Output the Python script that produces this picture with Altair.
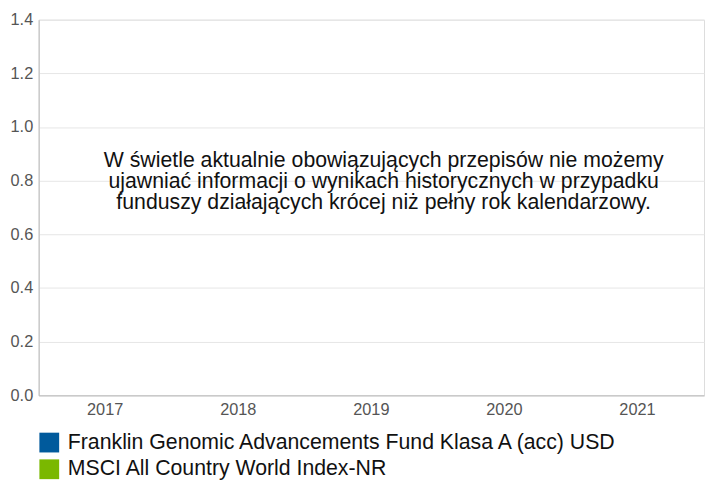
import altair as alt
import pandas as pd

years = ["2017", "2018", "2019", "2020", "2021"]
series = ["Franklin Genomic Advancements Fund Klasa A (acc) USD", "MSCI All Country World Index-NR"]
colors = ["#005A9C", "#7AB800"]
fund_values = [None, None, None, None, None]
index_values = [None, None, None, None, None]
y_ticks = [0.0, 0.2, 0.4, 0.6, 0.8, 1.0, 1.2, 1.4]
message = [
    "W świetle aktualnie obowiązujących przepisów nie możemy",
    "ujawniać informacji o wynikach historycznych w przypadku",
    "funduszy działających krócej niż pełny rok kalendarzowy.",
]

rows = []
for s, vals in zip(series, [fund_values, index_values]):
    for y, v in zip(years, vals):
        rows.append({"year": y, "series": s, "value": v})
df = pd.DataFrame(rows)

W, H = 673, 380
FONT = "Liberation Sans"

bars = alt.Chart(df).mark_bar().encode(
    x=alt.X("year:N", scale=alt.Scale(domain=years, paddingInner=0.2, paddingOuter=0.1),
            axis=alt.Axis(title=None, labelAngle=0, ticks=False, labelPadding=6,
                          labelFontSize=16.5, labelColor="#555555", labelFont=FONT,
                          domainColor="#bbbbbb", grid=False)),
    xOffset=alt.XOffset("series:N", scale=alt.Scale(domain=series)),
    y=alt.Y("value:Q", scale=alt.Scale(domain=[0, 1.4], nice=False),
            axis=alt.Axis(title=None, values=y_ticks, format=".1f", ticks=False, labelPadding=6,
                          labelFontSize=16.5, labelColor="#555555", labelFont=FONT,
                          domainColor="#bbbbbb", gridColor="#e6e6e6")),
    color=alt.Color("series:N", scale=alt.Scale(domain=series, range=colors),
                    legend=alt.Legend(title=None, orient="none", legendX=0, legendY=417,
                                      direction="vertical", symbolType="square", symbolSize=400,
                                      symbolStrokeWidth=0, labelFontSize=21.5, labelFont=FONT,
                                      labelColor="#111111", rowPadding=4, labelOffset=8,
                                      labelLimit=700)),
)

text = alt.Chart(pd.DataFrame({"t": [message]})).mark_text(
    fontSize=21.5, font=FONT, color="#111111", align="center", baseline="middle", lineHeight=21.5
).encode(text="t:N", x=alt.value(349), y=alt.value(143))

chart = alt.layer(bars, text).properties(
    width=W, height=H,
    autosize=alt.AutoSizeParams(type="none"),
    padding={"left": 31, "top": 9, "right": 1, "bottom": 100},
).configure_view(stroke=None).configure(background="white")

chart.save("out.html", embed_options={"renderer": "svg", "actions": False})
